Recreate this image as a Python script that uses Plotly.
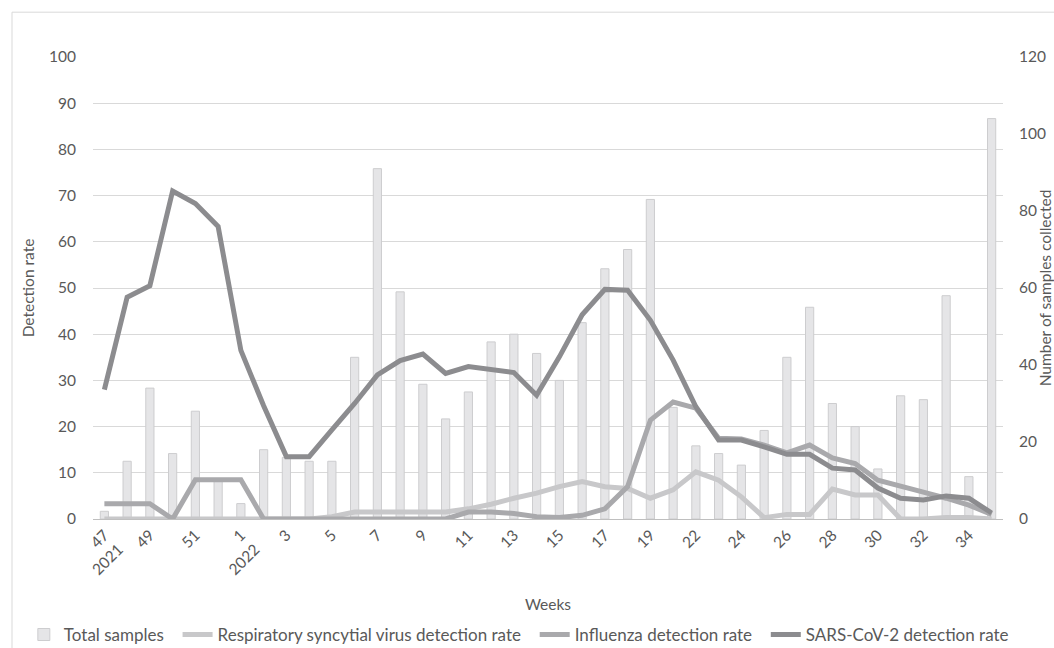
import plotly.graph_objects as go

# Week categories (every other one is labelled on the axis)
weeks = ["47<br>2021", "48", "49", "50", "51", "52", "1<br>2022", "2", "3", "4",
         "5", "6", "7", "8", "9", "10", "11", "12", "13", "14",
         "15", "16", "17", "18", "19", "21", "22", "23", "24", "25",
         "26", "27", "28", "29", "30", "31", "32", "33", "34", "35"]

# Number of samples collected each week
total_samples = [2, 15, 34, 17, 28, 10, 4, 18, 16, 15,
                 15, 42, 91, 59, 35, 26, 33, 46, 48, 43,
                 36, 51, 65, 70, 83, 29, 19, 17, 14, 23,
                 42, 55, 30, 24, 13, 32, 31, 58, 11, 104]

# Detection rates (%)
rsv_rate = [0, 0, 0, 0, 0, 0, 0, 0, 0, 0,
            0.5, 1.5, 1.5, 1.5, 1.5, 1.5, 2.2, 3.2, 4.5, 5.6,
            7, 8.1, 7, 6.6, 4.5, 6.3, 10.2, 8.4, 4.8, 0.3,
            1, 1, 6.5, 5.2, 5.2, 0, 0, 0.3, 0.3, 0]

flu_rate = [3.3, 3.3, 3.3, 0, 8.5, 8.5, 8.5, 0, 0, 0,
            0, 0, 0, 0, 0, 0, 1.5, 1.5, 1.2, 0.5,
            0.3, 0.8, 2.2, 7, 21.4, 25.3, 24, 17.5, 17.3, 16,
            14.3, 16, 13.2, 12, 8.4, 7, 5.8, 4.5, 3, 1]

sars_rate = [28, 48, 50.5, 71, 68.3, 63.3, 36.5, 24.5, 13.5, 13.5,
             19.3, 25, 31.2, 34.3, 35.7, 31.5, 33, 32.3, 31.7, 26.8,
             35.1, 44.2, 49.7, 49.5, 43, 34.4, 24.3, 17.1, 17.1, 15.6,
             14, 14, 11, 10.6, 6.7, 4.5, 4.1, 5, 4.5, 1.3]

FONT = "Lato"
TXT = "#595959"
GRID = "#d9d9d9"
TICK_SIZE = 15.5
PAD = "\u00a0" * 2  # extra room after a legend entry

fig = go.Figure()

fig.add_trace(go.Bar(
    x=weeks, y=total_samples, name="Total samples" + PAD,
    marker=dict(color="#e5e5e7", line=dict(color="#cdcdcf", width=1)),
    width=0.36, yaxis="y",
))

line_styles = [
    ("Respiratory syncytial virus detection rate" + PAD, rsv_rate, "#c8c8ca"),
    ("Influenza detection rate" + PAD, flu_rate, "#a9a9ac"),
    ("SARS-CoV-2 detection rate", sars_rate, "#8c8c8f"),
]
for name, vals, col in line_styles:
    fig.add_trace(go.Scatter(
        x=weeks, y=vals, name=name, mode="lines",
        line=dict(color=col, width=5),
        yaxis="y2",
    ))

fig.update_layout(
    width=1054, height=648,
    margin=dict(l=93, r=51, t=57, b=129, autoexpand=False),
    paper_bgcolor="white", plot_bgcolor="white",
    font=dict(family=FONT, size=TICK_SIZE, color=TXT),
    xaxis=dict(
        type="category", dtick=2, tickangle=-45, automargin=False,
        showgrid=False, showline=True, linecolor="#bfbfbf", linewidth=1,
        ticks="", tickfont=dict(size=TICK_SIZE, color=TXT),
        title=dict(text="Weeks", font=dict(size=TICK_SIZE, color=TXT), standoff=22),
    ),
    # samples axis (right side) carries the bars
    yaxis=dict(
        range=[0, 120], dtick=20, side="right", showgrid=False, automargin=False,
        zeroline=False, ticks="", tickfont=dict(size=TICK_SIZE, color=TXT),
        ticklabelstandoff=15,
        title=dict(text="Number of samples collected",
                   font=dict(size=TICK_SIZE, color=TXT), standoff=15),
    ),
    # detection-rate axis (left side) carries the lines
    yaxis2=dict(
        range=[0, 100], dtick=10, side="left", overlaying="y", automargin=False,
        showgrid=True, gridcolor=GRID, gridwidth=1, zeroline=False,
        ticks="", tickfont=dict(size=TICK_SIZE, color=TXT), ticklabelstandoff=16,
        title=dict(text="Detection rate", font=dict(size=TICK_SIZE, color=TXT), standoff=10),
    ),
    legend=dict(
        orientation="h", x=-0.076, xanchor="left", y=-0.251, yanchor="middle",
        font=dict(size=17, color=TXT), traceorder="normal",
        itemwidth=30, tracegroupgap=0,
    ),
    shapes=[dict(type="rect", xref="paper", yref="paper",
                 x0=-0.089, x1=1.2, y0=-0.3, y1=1.097,
                 line=dict(color=GRID, width=1), fillcolor="rgba(0,0,0,0)",
                 layer="below")],
)

fig.write_html("out.html")
